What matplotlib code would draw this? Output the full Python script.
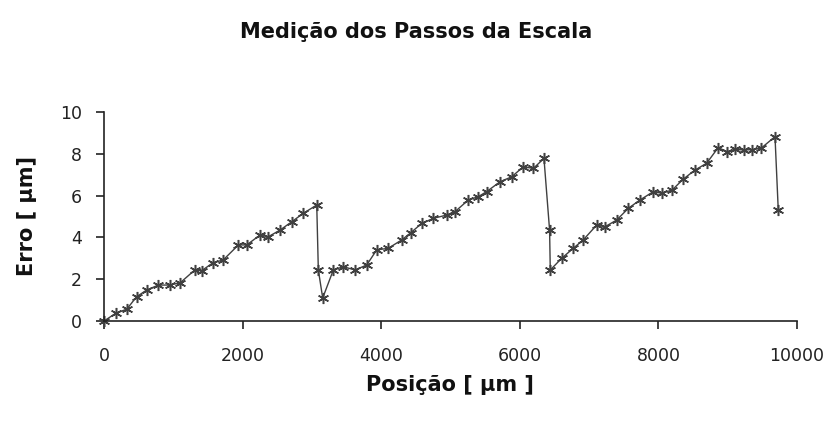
import matplotlib.pyplot as plt

posicao = [0, 170, 330, 470, 615, 785, 950, 1100, 1310, 1410, 1575, 1720, 1940, 2060,
           2250, 2370, 2540, 2710, 2875, 3070, 3093, 3156, 3309, 3453, 3622, 3791,
           3935, 4103, 4296, 4430, 4584, 4752, 4945, 5065, 5257, 5401, 5522, 5714,
           5883, 6051, 6195, 6349, 6430, 6440, 6604, 6772, 6916, 7109, 7229, 7398,
           7566, 7734, 7927, 8047, 8200, 8359, 8528, 8697, 8864, 8990, 9110, 9230,
           9350, 9480, 9683, 9730]
erro = [0.0, 0.37, 0.57, 1.16, 1.48, 1.72, 1.72, 1.83, 2.44, 2.41, 2.79, 2.92, 3.64, 3.64,
        4.11, 4.03, 4.35, 4.75, 5.15, 5.55, 2.44, 1.1, 2.44, 2.6, 2.44, 2.68,
        3.4, 3.48, 3.88, 4.23, 4.67, 4.91, 5.07, 5.23, 5.79, 5.95, 6.19, 6.66,
        6.9, 7.38, 7.3, 7.78, 4.35, 2.44, 3.0, 3.48, 3.88, 4.59, 4.51, 4.83,
        5.39, 5.79, 6.19, 6.11, 6.27, 6.79, 7.22, 7.55, 8.3, 8.1, 8.22, 8.18,
        8.2, 8.26, 8.82, 5.31]

x_ticks = [0, 2000, 4000, 6000, 8000, 10000]
y_ticks = [0, 2, 4, 6, 8, 10]

cor = '#404040'

fig = plt.figure(figsize=(8.32, 4.22), dpi=100)
ax = fig.add_axes([0.125, 0.2393, 0.8329, 0.4953])

ax.plot(posicao, erro, color=cor, linewidth=1.0, marker=(6, 2, 0),
        markersize=8, markeredgewidth=1.1, markeredgecolor=cor, clip_on=False)

ax.set_xlim(0, 10000)
ax.set_ylim(0, 10)
ax.set_xticks(x_ticks)
ax.set_yticks(y_ticks)

# Only left and bottom axis lines, like the old spreadsheet chart
for side in ['top', 'right']:
    ax.spines[side].set_visible(False)
for side in ['left', 'bottom']:
    ax.spines[side].set_color('#222222')
    ax.spines[side].set_linewidth(1.2)

ax.tick_params(axis='both', direction='out', length=6, width=1.2, color='#222222',
               labelsize=12.5, labelcolor='#222222')
ax.tick_params(axis='x', pad=13)
ax.tick_params(axis='y', pad=10)

fig.text(0.5, 0.924, 'Medição dos Passos da Escala', ha='center', va='center',
         fontsize=15, fontweight='bold', color='#111111')
fig.text(0.541, 0.088, 'Posição [ µm ]', ha='center', va='center',
         fontsize=15, fontweight='bold', color='#111111')
fig.text(0.032, 0.487, 'Erro [ µm]', ha='center', va='center', rotation=90,
         fontsize=15, fontweight='bold', color='#111111')

plt.savefig('out.png', dpi=100)
